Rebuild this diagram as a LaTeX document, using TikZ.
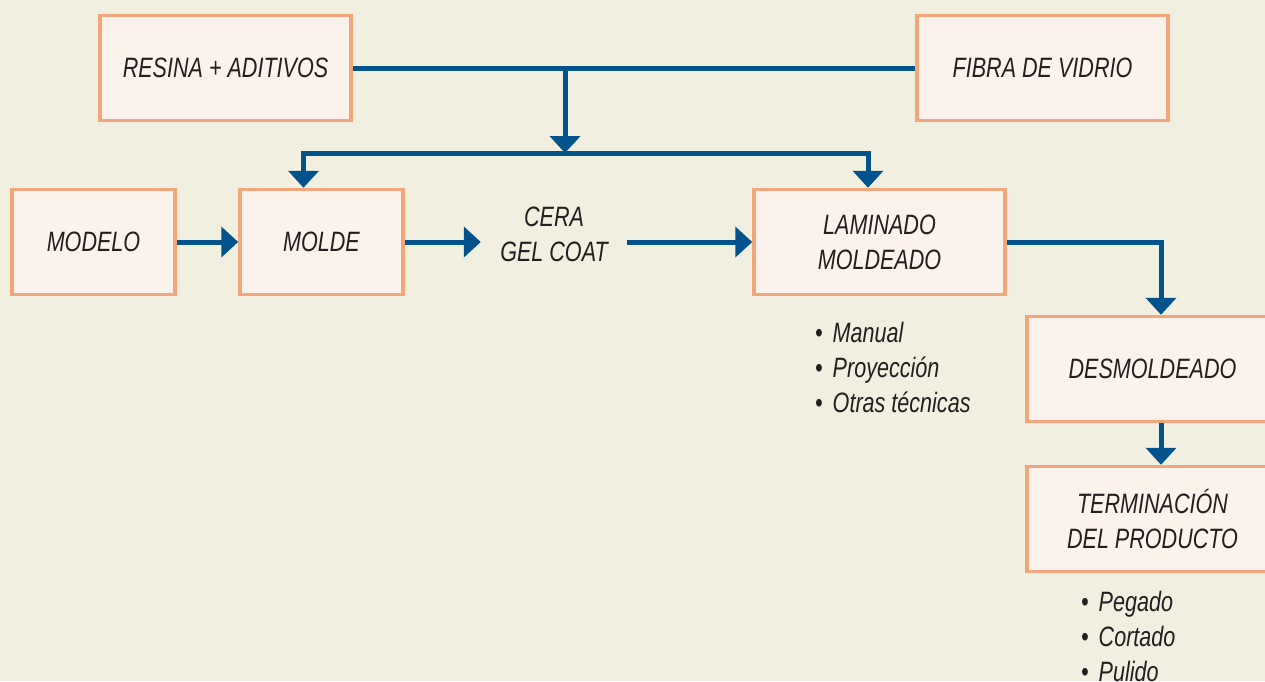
\documentclass[tikz,border=0pt]{standalone}
\usepackage{fontspec}
\setmainfont{Liberation Sans}[FakeStretch=0.77]
\usetikzlibrary{positioning,arrows.meta}

\definecolor{bgcream}{RGB}{241,239,224}
\definecolor{boxfill}{RGB}{252,242,236}
\definecolor{boxline}{RGB}{244,166,122}
\definecolor{flowblue}{RGB}{2,82,140}
\definecolor{ink}{RGB}{35,31,32}

\newcommand{\itemdot}{•\kern4pt\ }

\tikzset{
  box/.style={draw=boxline,fill=boxfill,line width=3.5pt,minimum width=251pt,minimum height=105pt,
    align=center,text=ink,font=\fontsize{28}{35}\selectfont\itshape},
  smallbox/.style={box,minimum width=163pt},
  plain/.style={inner sep=0pt,align=center,text=ink,font=\fontsize{28}{35}\selectfont\itshape},
  notes/.style={inner sep=0pt,align=left,text=ink,font=\fontsize{28}{35}\selectfont\itshape},
  link/.style={draw=flowblue,line width=5pt},
  flow/.style={link,-{Triangle[width=30pt,length=17pt]}}
}

\begin{document}
\begin{tikzpicture}[x=1pt,y=-1pt]
\fill[bgcream] (0,0) rectangle (1265,681);
\useasboundingbox (0,0) rectangle (1265,681);
\clip (0,0) rectangle (1265,681);

\node[box] (resina) at (225.5,68) {RESINA + ADITIVOS};
\node[box] (fibra) at (1042.5,68) {FIBRA DE VIDRIO};
\node[smallbox] (modelo) at (93.5,242) {MODELO};
\node[smallbox] (molde) at (321.5,242) {MOLDE};
\node[plain,minimum width=146pt] (cera) at (554,234) {CERA\\GEL COAT};
\node[box] (lam) at (879.5,242) {LAMINADO\\MOLDEADO};
\node[box] (desm) at (1152.5,369) {DESMOLDEADO};
\node[box] (term) at (1152.5,519) {TERMINACIÓN\\DEL PRODUCTO};

\node[notes,anchor=west] (tecnicas) at (815,367) {\itemdot Manual\\\itemdot Proyección\\\itemdot Otras técnicas};
\node[notes,anchor=west] (acabados) at (1081,636) {\itemdot Pegado\\\itemdot Cortado\\\itemdot Pulido};

\coordinate (j1) at (565,68);
\coordinate (j2) at (565,153);

\draw[link] (resina.east) -- (fibra.west);
\draw[flow] (j1) -- (j2);
\draw[flow] (j2) -| ([xshift=-18pt]molde.north);
\draw[flow] (j2) -| ([xshift=-11.5pt]lam.north);
\draw[flow] (modelo) -- (molde);
\draw[flow] (molde.east) -- (molde.east -| cera.west);
\draw[flow] (cera.east |- lam.west) -- (lam.west);
\draw[flow] (lam.east) -| ([xshift=8.5pt]desm.north);
\draw[flow] ([xshift=8.5pt]desm.south) -- ([xshift=8.5pt]term.north);
\end{tikzpicture}
\end{document}
